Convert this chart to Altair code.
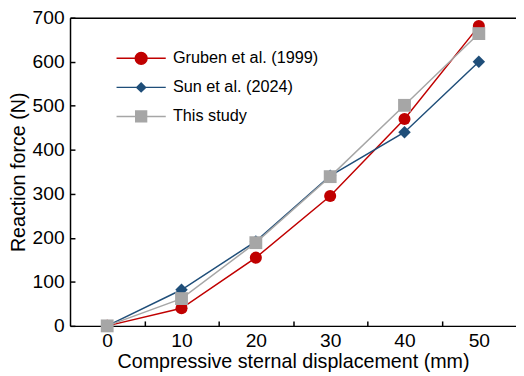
import altair as alt
import pandas as pd

# ---- data ----
x_mm = [0, 10, 20, 30, 40, 50]
gruben = [0, 40, 155, 295, 470, 681]
sun = [0, 82, 192, 341, 440, 600]
this_study = [0, 62, 189, 339, 501, 664]

series_names = ["Gruben et al. (1999)", "Sun et al. (2024)", "This study"]
series_colors = ["#C00000", "#1F4E79", "#A6A6A6"]
marker_shapes = ["circle", "diamond", "square"]
marker_sizes = [150, 170, 165]
legend_paths = [
    "M-25,0H25M6,0A6,6,0,1,1,-6,0A6,6,0,1,1,6,0Z",
    "M-25,0H25M0,-4.5L4.5,0L0,4.5L-4.5,0Z",
    "M-25,0H25M-5.5,-5.5H5.5V5.5H-5.5Z",
]

x_label_values = [0, 10, 20, 30, 40, 50]
x_minor_ticks = [5, 15, 25, 35, 45]
y_tick_values = [0, 100, 200, 300, 400, 500, 600, 700]

rows = []
for k, (name, vals) in enumerate(zip(series_names, [gruben, sun, this_study])):
    for xv, yv in zip(x_mm, vals):
        rows.append({"x": xv, "y": yv, "series": name, "legend_series": name, "k": k})
df = pd.DataFrame(rows)

FONT = "Liberation Sans"
xscale = alt.Scale(domain=[-5, 55], nice=False, zero=False)
yscale = alt.Scale(domain=[0, 700], nice=False, zero=False)
cscale = alt.Scale(domain=series_names, range=series_colors)

base = alt.Chart(df)

lines = base.mark_line(strokeWidth=1.5).encode(
    x=alt.X("x:Q", scale=xscale, axis=alt.Axis(
        orient="bottom", values=x_label_values, ticks=False, grid=False,
        domainColor="black", domainWidth=1.5, labelFontSize=19.5,
        labelColor="black", labelPadding=6, labelFont=FONT,
        title="Compressive sternal displacement (mm)", titleFontSize=20,
        titleFont=FONT, titleFontWeight="normal", titleColor="black",
        titlePadding=2)),
    y=alt.Y("y:Q", scale=yscale, axis=alt.Axis(
        orient="left", values=y_tick_values, ticks=False, grid=False,
        domainColor="black", domainWidth=1.5, labelFontSize=19.5,
        labelColor="black", labelPadding=6, labelFont=FONT,
        title="Reaction force (N)", titleFontSize=20, titleFont=FONT,
        titleFontWeight="normal", titleColor="black", titlePadding=4)),
    color=alt.Color("series:N", scale=cscale, legend=None),
    detail="series:N",
    order="x:Q",
)

points = base.mark_point(filled=True, opacity=1).encode(
    x=alt.X("x:Q", scale=xscale, axis=alt.Axis(
        orient="bottom", values=x_minor_ticks, labels=False, domain=False,
        grid=False, ticks=True, tickSize=5, tickWidth=1.5, tickColor="black",
        offset=-5, title=None)),
    y=alt.Y("y:Q", scale=yscale, axis=alt.Axis(
        orient="left", values=y_tick_values, labels=False, domain=False,
        grid=False, ticks=True, tickSize=5, tickWidth=1.5, tickColor="black",
        offset=-5, title=None)),
    color=alt.Color("series:N", scale=cscale, legend=None),
    shape=alt.Shape("series:N", scale=alt.Scale(domain=series_names, range=marker_shapes), legend=None),
    size=alt.Size("series:N", scale=alt.Scale(domain=series_names, range=marker_sizes), legend=None),
    order=alt.Order("k:Q"),
)

leg = alt.Legend(
    orient="none", legendX=64, legendY=33, title=None, labelFontSize=16.5,
    labelFont=FONT, labelColor="black", symbolSize=4, labelOffset=24,
    rowPadding=11.5, padding=0, symbolStrokeWidth=1.5, symbolOpacity=1,
)

legend_layer = base.mark_point(filled=True, size=0, strokeWidth=1.5).encode(
    x=alt.X("x:Q", scale=xscale, axis=alt.Axis(
        orient="top", labels=False, ticks=False, grid=False, domain=True,
        domainColor="black", domainWidth=1.5, title=None)),
    y=alt.Y("y:Q", scale=yscale, axis=None),
    fill=alt.Fill("legend_series:N", scale=cscale, legend=leg),
    stroke=alt.Stroke("legend_series:N", scale=cscale, legend=leg),
    shape=alt.Shape("legend_series:N", scale=alt.Scale(domain=series_names, range=legend_paths), legend=leg),
)

chart = alt.layer(lines, points, legend_layer).resolve_axis(
    x="independent", y="independent"
).resolve_scale(
    color="independent", shape="independent", fill="independent", stroke="independent"
).properties(
    width=453, height=313,
    padding={"left": 63, "top": 7, "right": 0, "bottom": 46},
    autosize=alt.AutoSizeParams(type="none"),
).configure_view(stroke=None).configure(font=FONT)

chart.save("out.html", embed_options={"renderer": "svg", "actions": False})
